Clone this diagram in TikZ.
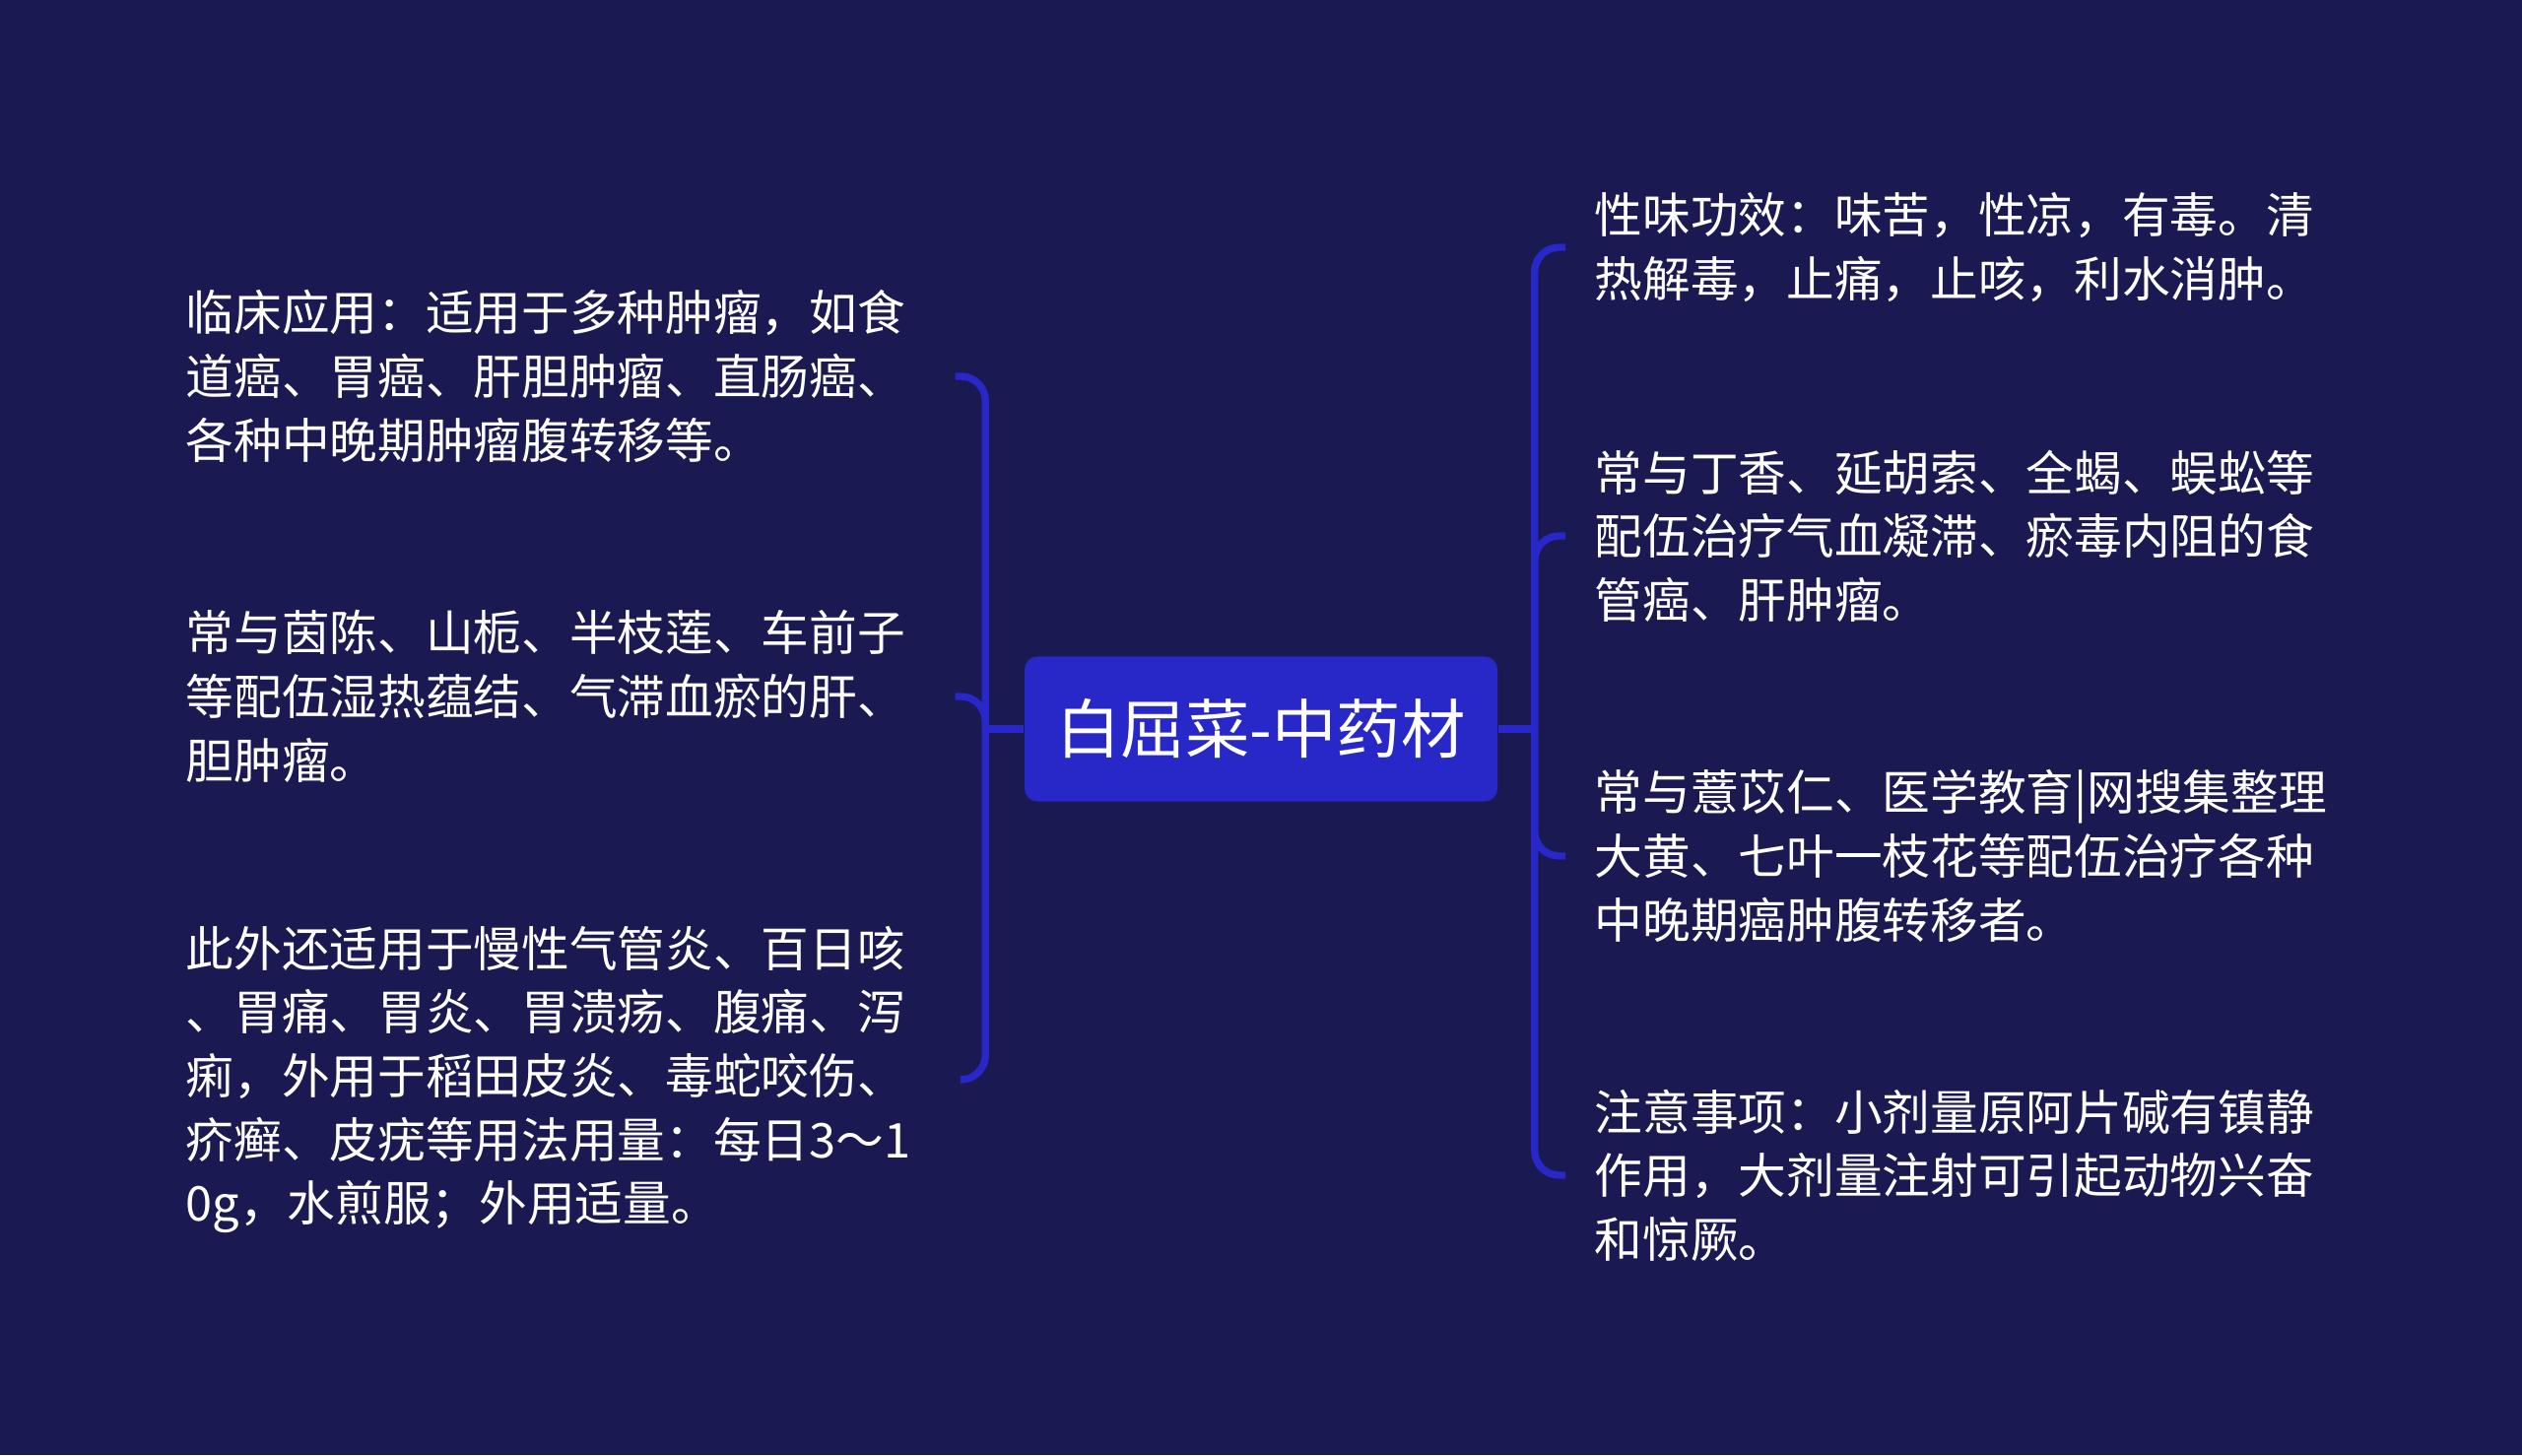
\documentclass[tikz,border=0pt]{standalone}
\usepackage{fontspec}
\setmainfont{Noto Sans CJK SC}
\usepackage{xcolor}
\usetikzlibrary{positioning}
\definecolor{bgnavy}{RGB}{26,25,82}
\definecolor{hubblue}{RGB}{40,40,200}

\begin{document}
\begin{tikzpicture}[
    hub/.style={fill=hubblue,rounded corners=0.13cm,minimum width=4.8cm,minimum height=1.47cm,inner sep=0pt,text=white,font=\fontsize{18.6pt}{22pt}\selectfont},
    leaf/.style={align=left,inner sep=0pt,text=white,font=\fontsize{13.85pt}{18.4pt}\selectfont},
    link/.style={draw=hubblue,line width=2.1pt,rounded corners=0.25cm}
]
\useasboundingbox[fill=bgnavy] (0,0) rectangle (25.6,14.77);

\node[hub] (hub) at (12.8,7.37) {白屈菜-中药材};
\coordinate[left=0.39cm of hub] (jl);
\coordinate[right=0.37cm of hub] (jr);

% left side
\node[leaf,anchor=west] (l1) at (1.88,10.95) {临床应用：适用于多种肿瘤，如食\\道癌、胃癌、肝胆肿瘤、直肠癌、\\各种中晚期肿瘤腹转移等。};
\node[leaf,anchor=west] (l2) at (1.88,7.70) {常与茵陈、山栀、半枝莲、车前子\\等配伍湿热蕴结、气滞血瘀的肝、\\胆肿瘤。};
\node[leaf,anchor=west] (l3) at (1.88,3.81) {此外还适用于慢性气管炎、百日咳\\、胃痛、胃炎、胃溃疡、腹痛、泻\\痢，外用于稻田皮炎、毒蛇咬伤、\\疥癣、皮疣等用法用量：每日3～1\\0g，水煎服；外用适量。};

% right side
\node[leaf,anchor=west] (r1) at (16.18,12.26) {性味功效：味苦，性凉，有毒。清\\热解毒，止痛，止咳，利水消肿。};
\node[leaf,anchor=west] (r2) at (16.18,9.33) {常与丁香、延胡索、全蝎、蜈蚣等\\配伍治疗气血凝滞、瘀毒内阻的食\\管癌、肝肿瘤。};
\node[leaf,anchor=west] (r3) at (16.18,6.08) {常与薏苡仁、医学教育|网搜集整理\\大黄、七叶一枝花等配伍治疗各种\\中晚期癌肿腹转移者。};
\node[leaf,anchor=west] (r4) at (16.18,2.84) {注意事项：小剂量原阿片碱有镇静\\作用，大剂量注射可引起动物兴奋\\和惊厥。};

\draw[link] (hub.west) -- (jl);
\draw[link] (hub.east) -- (jr);
\foreach \n in {l1,l2,l3}
    \draw[link] (jl) |- ([xshift=0.5cm]\n.east);
\foreach \n in {r1,r2,r3,r4}
    \draw[link] (jr) |- ([xshift=-0.29cm]\n.west);
\end{tikzpicture}
\end{document}
